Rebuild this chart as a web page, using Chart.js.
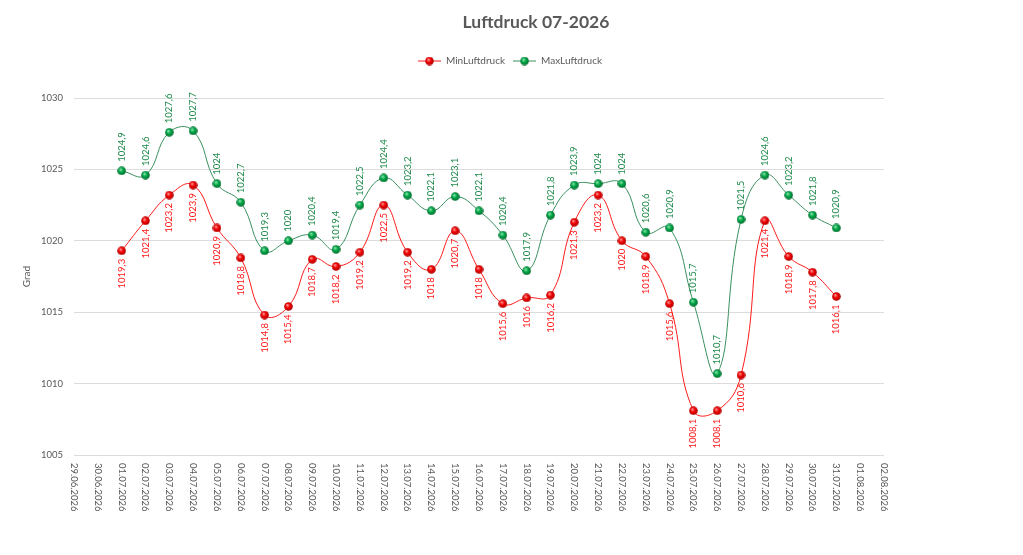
<!DOCTYPE html>
<html>
<head>
<meta charset="utf-8">
<script src="https://cdn.jsdelivr.net/npm/chart.js@4/dist/chart.umd.min.js"></script>
<style>
  body { margin: 0; background: #fff; }
  #wrap { width: 1023px; height: 555px; }
</style>
</head>
<body>
<div id="wrap"><canvas id="myChart"></canvas></div>
<script>
const xLabels = [
  '29.06.2026', '30.06.2026', '01.07.2026', '02.07.2026', '03.07.2026', '04.07.2026', '05.07.2026',
  '06.07.2026', '07.07.2026', '08.07.2026', '09.07.2026', '10.07.2026', '11.07.2026', '12.07.2026',
  '13.07.2026', '14.07.2026', '15.07.2026', '16.07.2026', '17.07.2026', '18.07.2026', '19.07.2026',
  '20.07.2026', '21.07.2026', '22.07.2026', '23.07.2026', '24.07.2026', '25.07.2026', '26.07.2026',
  '27.07.2026', '28.07.2026', '29.07.2026', '30.07.2026', '31.07.2026', '01.08.2026', '02.08.2026'
];
const minLuftdruck = [
  null, null, 1019.3, 1021.4, 1023.2, 1023.9, 1020.9, 1018.8, 1014.8, 1015.4, 1018.7, 1018.2, 1019.2, 1022.5,
  1019.2, 1018, 1020.7, 1018, 1015.6, 1016, 1016.2, 1021.3, 1023.2, 1020, 1018.9, 1015.6, 1008.1, 1008.1,
  1010.6, 1021.4, 1018.9, 1017.8, 1016.1, null, null
];
const maxLuftdruck = [
  null, null, 1024.9, 1024.6, 1027.6, 1027.7, 1024, 1022.7, 1019.3, 1020, 1020.4, 1019.4, 1022.5, 1024.4,
  1023.2, 1022.1, 1023.1, 1022.1, 1020.4, 1017.9, 1021.8, 1023.9, 1024, 1024, 1020.6, 1020.9, 1015.7, 1010.7,
  1021.5, 1024.6, 1023.2, 1021.8, 1020.9, null, null
];
const yTicks = [1005, 1010, 1015, 1020, 1025, 1030];

const FONT = 'Lato, "Open Sans", sans-serif';
const GREY = '#595959';

// small glossy ball used as point marker
function sphere(light, base, dark) {
  const c = document.createElement('canvas');
  c.width = 9; c.height = 9;
  const g = c.getContext('2d');
  const grad = g.createRadialGradient(3.3, 3, 0.3, 4.5, 4.5, 4.6);
  grad.addColorStop(0, light);
  grad.addColorStop(0.45, base);
  grad.addColorStop(1, dark);
  g.fillStyle = grad;
  g.beginPath();
  g.arc(4.5, 4.5, 4.3, 0, Math.PI * 2);
  g.fill();
  return c;
}

// legend marker: line with a ball in the middle
function legendMark(color, ball) {
  const c = document.createElement('canvas');
  c.width = 23; c.height = 9;
  const g = c.getContext('2d');
  g.strokeStyle = color;
  g.lineWidth = 1;
  g.beginPath();
  g.moveTo(0, 4.5); g.lineTo(23, 4.5);
  g.stroke();
  g.drawImage(ball, 7, 0);
  return c;
}

const redBall = sphere('#ff9a9a', '#f00000', '#a80000');
const greenBall = sphere('#8fe6b0', '#00a848', '#006428');

const valueLabels = {
  id: 'valueLabels',
  afterDatasetsDraw(chart) {
    const ctx = chart.ctx;
    chart.data.datasets.forEach((ds, i) => {
      const meta = chart.getDatasetMeta(i);
      meta.data.forEach((pt, j) => {
        const v = ds.data[j];
        if (v == null) return;
        const above = ds.labelPos === 'above';
        ctx.save();
        ctx.translate(pt.x, pt.y + (above ? -9 : 8));
        ctx.rotate(-Math.PI / 2);
        ctx.font = '9.5px ' + FONT;
        ctx.fillStyle = ds.labelColor;
        ctx.textAlign = above ? 'left' : 'right';
        ctx.textBaseline = 'middle';
        ctx.fillText(String(v).replace('.', ','), 0, 0);
        ctx.restore();
      });
    });
  }
};

// x labels read top to bottom
const dateLabels = {
  id: 'dateLabels',
  afterDraw(chart) {
    const ctx = chart.ctx;
    const xs = chart.scales.x;
    ctx.save();
    ctx.font = '9.5px ' + FONT;
    ctx.fillStyle = GREY;
    ctx.textAlign = 'left';
    ctx.textBaseline = 'middle';
    xLabels.forEach((l, i) => {
      ctx.save();
      ctx.translate(xs.getPixelForValue(i), chart.chartArea.bottom + 8);
      ctx.rotate(Math.PI / 2);
      ctx.fillText(l, 0, 0);
      ctx.restore();
    });
    ctx.restore();
  }
};

// title and legend sit over the whole picture, not only the left part
const headerSpan = {
  id: 'headerSpan',
  afterLayout(chart) {
    if (chart.titleBlock) { chart.titleBlock.left = 49; chart.titleBlock.right = chart.width; }
    if (chart.legend) { chart.legend.left = 0; chart.legend.right = 1020; }
  }
};

const ctx = document.getElementById('myChart').getContext('2d');
const myChart = new Chart(ctx, {
  type: 'line',
  data: {
    labels: xLabels,
    datasets: [{
      label: 'MinLuftdruck',
      data: minLuftdruck,
      borderColor: '#ff1a1a',
      borderWidth: 1,
      tension: 0.45,
      pointStyle: redBall,
      legendMark: legendMark('#ff1a1a', redBall),
      labelColor: '#ff1a1a',
      labelPos: 'below'
    }, {
      label: 'MaxLuftdruck',
      data: maxLuftdruck,
      borderColor: '#3a8f5e',
      borderWidth: 1,
      tension: 0.45,
      pointStyle: greenBall,
      legendMark: legendMark('#3a8f5e', greenBall),
      labelColor: '#1f8a4c',
      labelPos: 'above'
    }]
  },
  options: {
    responsive: true,
    maintainAspectRatio: false,
    animation: false,
    events: [],
    layout: {
      padding: { left: 0, right: 139, top: 0, bottom: 92 }
    },
    plugins: {
      title: {
        display: true,
        text: 'Luftdruck 07-2026',
        color: GREY,
        font: { family: FONT, size: 17.5, weight: 'bold' },
        padding: { top: 12, bottom: 15 }
      },
      legend: {
        labels: {
          color: GREY,
          font: { family: FONT, size: 10 },
          usePointStyle: true,
          pointStyleWidth: 23,
          padding: 8,
          generateLabels(chart) {
            return chart.data.datasets.map((ds, i) => ({
              text: ds.label,
              pointStyle: ds.legendMark,
              fontColor: GREY,
              lineWidth: 0,
              strokeStyle: 'transparent',
              fillStyle: 'transparent',
              datasetIndex: i
            }));
          }
        }
      },
      subtitle: {
        display: true,
        text: '',
        weight: 500,
        font: { size: 10 },
        padding: { top: 10, bottom: 0 }
      },
      tooltip: { enabled: false }
    },
    scales: {
      x: {
        offset: false,
        grid: { display: false },
        border: { display: false },
        ticks: { display: false }
      },
      y: {
        min: 1005,
        max: 1030,
        afterBuildTicks(scale) {
          scale.ticks = yTicks.map(v => ({ value: v }));
        },
        afterFit(scale) {
          scale.width = 74;
        },
        grid: { color: '#dcdcdc', drawTicks: false },
        border: { display: false },
        ticks: {
          color: GREY,
          padding: 11,
          font: { family: FONT, size: 9.5 },
          callback: value => String(value)
        },
        title: {
          display: true,
          text: 'Grad',
          color: GREY,
          font: { family: FONT, size: 10 },
          padding: { top: 21, bottom: 0 }
        }
      }
    }
  },
  plugins: [valueLabels, dateLabels, headerSpan]
});
</script>
</body>
</html>
